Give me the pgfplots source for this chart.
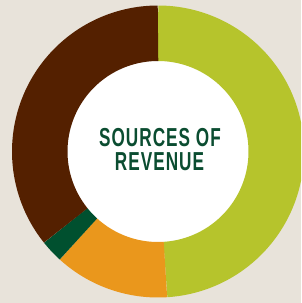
\documentclass[border=0pt]{standalone}
\usepackage{pgfplots}
\usepackage{pgfplotstable}
\pgfplotsset{compat=1.18}
\usepackage{fontspec}
\setmainfont{Liberation Sans}
\newfontfamily\titlefont[LetterSpace=6]{Liberation Sans Bold}
\definecolor{bgc}{HTML}{E8E3DA}
\definecolor{cgreen}{HTML}{B6C42C}
\definecolor{corange}{HTML}{EA971C}
\definecolor{cdark}{HTML}{00502F}
\definecolor{cbrown}{HTML}{542000}
\definecolor{ctext}{HTML}{0B4D31}
\pgfplotstableread{
part value
1 49.0
2 12.75
3 2.5
4 35.75
}\revtable
\begin{document}
\begin{tikzpicture}
\pgfplotstablegetelem{0}{value}\of\revtable \let\va\pgfplotsretval
\pgfplotstablegetelem{1}{value}\of\revtable \let\vb\pgfplotsretval
\pgfplotstablegetelem{2}{value}\of\revtable \let\vc\pgfplotsretval
\pgfplotstablegetelem{3}{value}\of\revtable \let\vd\pgfplotsretval
\pgfmathsetmacro\aA{90-3.6*\va}
\pgfmathsetmacro\aB{\aA-3.6*\vb}
\pgfmathsetmacro\aC{\aB-3.6*\vc}
\pgfmathsetmacro\aD{\aC-3.6*\vd}
\begin{axis}[
  scale only axis, width=301pt, height=303pt,
  xmin=0, xmax=301, ymin=0, ymax=303,
  axis lines=none, clip=true,
  axis background/.style={fill=bgc},
]
\fill[white] (axis cs:158,151.5) circle[radius=92pt];
\addplot[draw=cgreen, line width=55.5pt, domain=\aA:90, samples=150, variable=\t] ({158+118.25*cos(t)},{151.5+118.25*sin(t)});
\addplot[draw=corange, line width=55.5pt, domain=\aB:\aA, samples=80, variable=\t] ({158+118.25*cos(t)},{151.5+118.25*sin(t)});
\addplot[draw=cdark, line width=55.5pt, domain=\aC:\aB, samples=30, variable=\t] ({158+118.25*cos(t)},{151.5+118.25*sin(t)});
\addplot[draw=cbrown, line width=55.5pt, domain=\aD:\aC, samples=120, variable=\t] ({158+118.25*cos(t)},{151.5+118.25*sin(t)});
\node[text=ctext, inner sep=0pt, anchor=center] at (axis cs:160,165) {\scalebox{0.66}[1]{\titlefont\fontsize{26}{26}\selectfont SOURCES OF}};
\node[text=ctext, inner sep=0pt, anchor=center] at (axis cs:159.5,141) {\scalebox{0.66}[1]{\titlefont\fontsize{26}{26}\selectfont REVENUE}};
\end{axis}
\pgfresetboundingbox
\path[use as bounding box] (0,0) rectangle (301pt,303pt);
\end{tikzpicture}
\end{document}
